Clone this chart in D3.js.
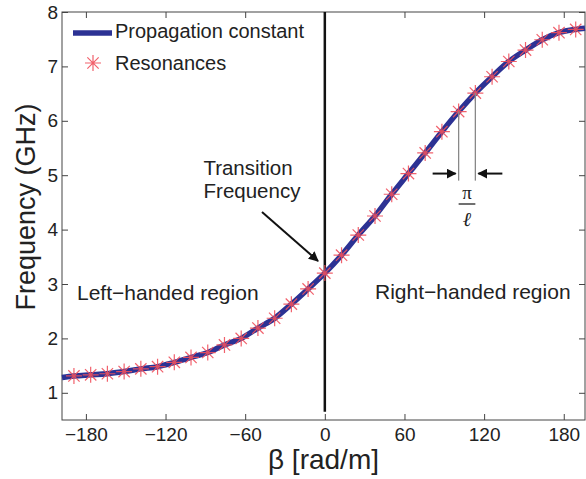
<!DOCTYPE html>
<html>
<head>
<meta charset="utf-8">
<script src="https://cdn.jsdelivr.net/npm/d3@7"></script>
<style>
  body { margin: 0; background: #fff; }
  text { font-family: "Liberation Sans", Arial, sans-serif; fill: #222; }
</style>
</head>
<body>
<svg id="chart"></svg>
<script>
// resonance points (beta in rad/m, frequency in GHz)
var beta = [-189, -176.4, -163.8, -151.2, -138.6, -126, -113.4, -100.8, -88.2, -75.6,
            -63, -50.4, -37.8, -25.2, -12.6, 0, 12.6, 25.2, 37.8, 50.4,
            63, 75.6, 88.2, 100.8, 113.4, 126, 138.6, 151.2, 163.8, 176.4, 189];
var freq = [1.31, 1.33, 1.35, 1.39, 1.44, 1.48, 1.56, 1.65, 1.74, 1.88,
            2.00, 2.19, 2.37, 2.63, 2.91, 3.20, 3.53, 3.90, 4.25, 4.65,
            5.03, 5.41, 5.80, 6.17, 6.51, 6.81, 7.09, 7.30, 7.49, 7.62, 7.68];

// dispersion curve ends at the axes limits
var betaEnds = [-198, 196];
var freqEnds = [1.28, 7.70];

var xTicks = [-180, -120, -60, 0, 60, 120, 180];
var yTicks = [1, 2, 3, 4, 5, 6, 7, 8];

var width = 586, height = 479;
var plotL = 62, plotR = 585, plotT = 12, plotB = 420;

var svg = d3.select("#chart")
  .attr("width", width)
  .attr("height", height);

var xScale = d3.scaleLinear()
  .domain([-198, 196])
  .range([plotL, plotR]);

var yScale = d3.scaleLinear()
  .domain([0.5, 8])
  .range([plotB, plotT]);

var lineData = [{b: betaEnds[0], f: freqEnds[0]}];
beta.forEach(function(b, i){
  lineData.push({b: b, f: freq[i]});
});
lineData.push({b: betaEnds[1], f: freqEnds[1]});

var points = beta.map(function(b, i){
  return {b: b, f: freq[i]};
});

// axes, ticks pointing inward on all four sides
var axisB = d3.axisBottom(xScale).tickValues(xTicks).tickSize(-6).tickPadding(8);
var axisT = d3.axisTop(xScale).tickValues(xTicks).tickSize(-6).tickFormat("");
var axisL = d3.axisLeft(yScale).tickValues(yTicks).tickSize(-6).tickPadding(4);
var axisR = d3.axisRight(yScale).tickValues(yTicks).tickSize(-6).tickFormat("");

svg.append("g").attr("transform", "translate(0," + plotB + ")").call(axisB);
svg.append("g").attr("transform", "translate(0," + plotT + ")").call(axisT);
svg.append("g").attr("transform", "translate(" + plotL + ",0)").call(axisL);
svg.append("g").attr("transform", "translate(" + plotR + ",0)").call(axisR);

svg.selectAll(".domain").remove();
svg.selectAll(".tick line").attr("stroke", "#444");
svg.selectAll(".tick text")
  .style("font-size", "19px")
  .attr("fill", "#222");

svg.append("rect")
  .attr("x", plotL)
  .attr("y", plotT)
  .attr("width", plotR - plotL)
  .attr("height", plotB - plotT)
  .attr("fill", "none")
  .attr("stroke", "#444")
  .attr("stroke-width", 1);

// vertical line at beta = 0
svg.append("line")
  .attr("x1", xScale(0)).attr("x2", xScale(0))
  .attr("y1", yScale(8)).attr("y2", yScale(0.65))
  .attr("stroke", "#111")
  .attr("stroke-width", 2.5);

// propagation constant curve
var line = d3.line()
  .x(function(d){ return xScale(d.b); })
  .y(function(d){ return yScale(d.f); })
  .curve(d3.curveMonotoneX);

svg.append("path")
  .datum(lineData)
  .attr("d", line)
  .attr("fill", "none")
  .attr("stroke", "#2c3294")
  .attr("stroke-width", 5.5);

// asterisk markers
var star = function(g, r){
  var a = r * 0.707;
  g.append("path")
    .attr("d", "M0," + (-r) + "V" + r + "M" + (-r) + ",0H" + r +
               "M" + (-a) + "," + (-a) + "L" + a + "," + a +
               "M" + (-a) + "," + a + "L" + a + "," + (-a))
    .attr("stroke", "#f0505c")
    .attr("stroke-opacity", 0.9)
    .attr("stroke-width", 1.2)
    .attr("fill", "none");
};

svg.selectAll(".res")
  .data(points)
  .enter()
  .append("g")
  .attr("class", "res")
  .attr("transform", function(d){
    return "translate(" + xScale(d.b) + "," + yScale(d.f) + ")";
  })
  .each(function(){ star(d3.select(this), 8); });

// pi / l spacing marker between two neighbouring resonances
var m1 = points[23], m2 = points[24];
[m1, m2].forEach(function(d){
  svg.append("line")
    .attr("x1", xScale(d.b)).attr("x2", xScale(d.b))
    .attr("y1", yScale(d.f)).attr("y2", yScale(4.9))
    .attr("stroke", "#888")
    .attr("stroke-width", 1.3);
});

svg.append("defs").append("marker")
  .attr("id", "head")
  .attr("viewBox", "0 0 10 10")
  .attr("refX", 9).attr("refY", 5)
  .attr("markerWidth", 5).attr("markerHeight", 5)
  .attr("orient", "auto")
  .append("path")
  .attr("d", "M0,0L10,5L0,10z")
  .attr("fill", "#111");

var arrowY = yScale(5.03);
svg.append("line")
  .attr("x1", xScale(m1.b) - 26).attr("x2", xScale(m1.b) - 3)
  .attr("y1", arrowY).attr("y2", arrowY)
  .attr("stroke", "#111").attr("stroke-width", 2)
  .attr("marker-end", "url(#head)");
svg.append("line")
  .attr("x1", xScale(m2.b) + 27).attr("x2", xScale(m2.b) + 3)
  .attr("y1", arrowY).attr("y2", arrowY)
  .attr("stroke", "#111").attr("stroke-width", 2)
  .attr("marker-end", "url(#head)");

var cx = (xScale(m1.b) + xScale(m2.b)) / 2;
svg.append("text")
  .attr("x", cx).attr("y", 199)
  .attr("text-anchor", "middle")
  .style("font-family", "'Liberation Serif', serif")
  .style("font-size", "19px")
  .text("π");
svg.append("line")
  .attr("x1", xScale(m1.b)).attr("x2", xScale(m2.b))
  .attr("y1", 204).attr("y2", 204)
  .attr("stroke", "#222").attr("stroke-width", 1.3);
svg.append("text")
  .attr("x", cx).attr("y", 226)
  .attr("text-anchor", "middle")
  .style("font-family", "'DejaVu Serif', serif")
  .style("font-style", "italic")
  .style("font-size", "20px")
  .text("ℓ");

// transition frequency annotation
svg.append("text")
  .attr("x", 248).attr("y", 175)
  .attr("text-anchor", "middle")
  .style("font-size", "20.5px")
  .text("Transition");
svg.append("text")
  .attr("x", 252).attr("y", 198)
  .attr("text-anchor", "middle")
  .style("font-size", "20.5px")
  .text("Frequency");
svg.append("line")
  .attr("x1", 262).attr("y1", 212)
  .attr("x2", 318).attr("y2", 261)
  .attr("stroke", "#111").attr("stroke-width", 2)
  .attr("marker-end", "url(#head)");

// region labels
svg.append("text")
  .attr("x", 77).attr("y", 300)
  .style("font-size", "21px")
  .text("Left\u2212handed region");
svg.append("text")
  .attr("x", 375).attr("y", 299)
  .style("font-size", "21px")
  .text("Right\u2212handed region");

// legend
svg.append("line")
  .attr("x1", 73).attr("x2", 112)
  .attr("y1", 33).attr("y2", 33)
  .attr("stroke", "#2c3294")
  .attr("stroke-width", 5.5);
svg.append("text")
  .attr("x", 115).attr("y", 38)
  .style("font-size", "20px")
  .text("Propagation constant");
var lg = svg.append("g").attr("transform", "translate(93,63)");
star(lg, 8);
svg.append("text")
  .attr("x", 115).attr("y", 70)
  .style("font-size", "20px")
  .text("Resonances");

// axis titles
svg.append("text")
  .attr("x", (plotL + plotR) / 2).attr("y", 469)
  .attr("text-anchor", "middle")
  .style("font-size", "28px")
  .text("β [rad/m]");
svg.append("text")
  .attr("transform", "translate(35,207) rotate(-90)")
  .attr("text-anchor", "middle")
  .style("font-size", "27px")
  .text("Frequency (GHz)");
</script>
</body>
</html>
